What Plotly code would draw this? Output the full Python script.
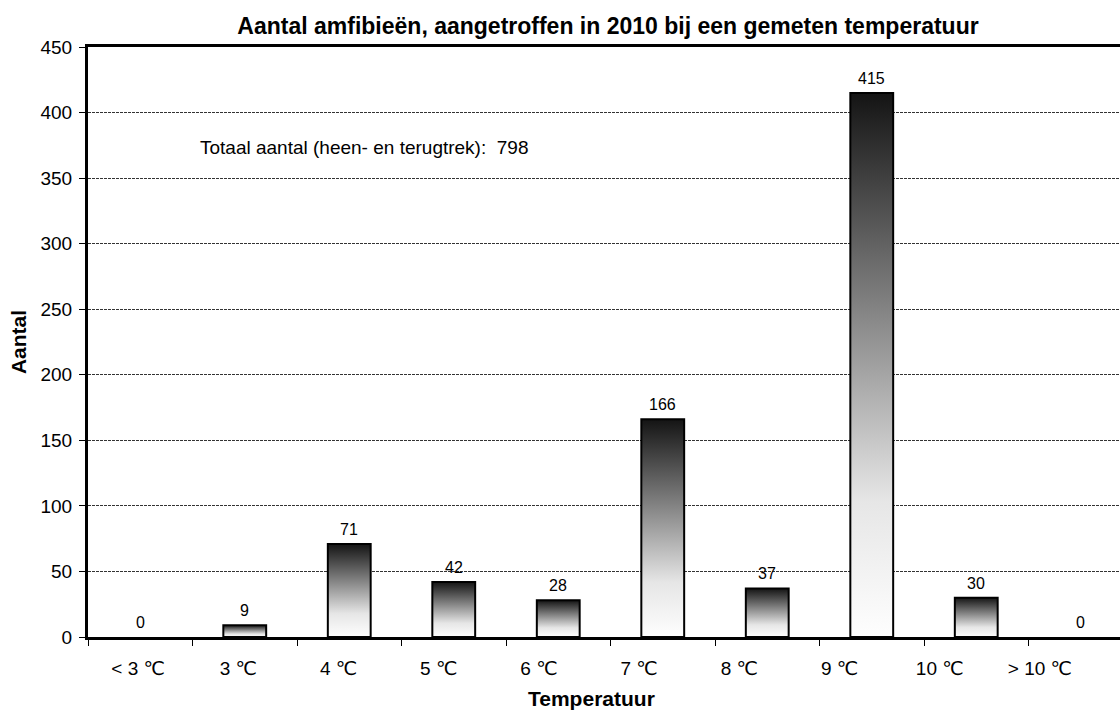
import plotly.graph_objects as go

# Data
categories = ['< 3 \u2103', '3 \u2103', '4 \u2103', '5 \u2103', '6 \u2103',
              '7 \u2103', '8 \u2103', '9 \u2103', '10 \u2103', '> 10 \u2103']
counts = [0, 9, 71, 42, 28, 166, 37, 415, 30, 0]
total_label = 'Totaal aantal (heen- en terugtrek):  798'

FONT = 'Liberation Sans, Arial, DejaVu Sans, sans-serif'
GRADIENT = [[0.0, '#fefefe'], [0.25, '#e6e6e6'], [0.5, '#a0a0a0'],
            [0.75, '#5a5a5a'], [1.0, '#141414']]
HALF_W = 0.205

# plot area in pixels (left edge, width, bottom edge, height)
PL, PW, PB, PH = 88, 1032, 637, 590

fig = go.Figure()

# Bars as filled shapes so every bar gets its own vertical gradient
for i, v in enumerate(counts):
    if v <= 0:
        continue
    fig.add_trace(go.Scatter(
        x=[i - HALF_W, i + HALF_W, i + HALF_W, i - HALF_W, i - HALF_W],
        y=[0, 0, v, v, 0],
        mode='lines',
        fill='toself',
        fillgradient=dict(type='vertical', colorscale=GRADIENT),
        line=dict(color='black', width=2),
        showlegend=False,
        hoverinfo='skip',
    ))

# Value labels
for i, v in enumerate(counts):
    fig.add_annotation(
        x=i, y=v, xref='x', yref='y', text=str(v),
        showarrow=False, yanchor='bottom', yshift=4,
        font=dict(family=FONT, size=16, color='black'),
    )

# Invisible trace for the tick-label axis
fig.add_trace(go.Scatter(x=list(range(len(categories))), y=[None] * len(categories),
                         xaxis='x2', mode='markers', showlegend=False, hoverinfo='skip'))

fig.add_annotation(
    x=(198 - PL) / PW, y=373, xref='x domain', yref='y', text=total_label,
    showarrow=False, xanchor='left', yanchor='middle',
    font=dict(family=FONT, size=19, color='black'),
)

fig.add_annotation(
    x=(591 - PL) / PW, y=-(699 - PB) / PH, xref='paper', yref='paper',
    text='<b>Temperatuur</b>', showarrow=False, xanchor='center', yanchor='middle',
    font=dict(family=FONT, size=21, color='black'),
)

fig.update_layout(
    width=1120, height=711,
    margin=dict(l=PL, r=0, t=47, b=74, autoexpand=False),
    plot_bgcolor='white', paper_bgcolor='white',
    font=dict(family=FONT, color='black'),
    title=dict(
        text='<b>Aantal amfibieën, aangetroffen in 2010 bij een gemeten temperatuur</b>',
        x=(608 - PL) / PW, xref='paper', xanchor='center',
        y=1 - 26 / 711, yref='container', yanchor='middle',
        font=dict(family=FONT, size=23, color='black'),
    ),
    xaxis=dict(
        range=[-0.5, -0.5 + PW / 104.5],
        tickvals=[k - 0.5 for k in range(len(categories) + 1)],
        ticktext=[''] * (len(categories) + 1),
        ticks='outside', ticklen=6, tickwidth=1, tickcolor='black',
        showgrid=False, zeroline=False, automargin=False,
        showline=True, linecolor='black', linewidth=3, mirror=True,
    ),
    xaxis2=dict(
        overlaying='x', anchor='y', side='bottom',
        range=[-0.5, -0.5 + PW / 100.2],
        tickvals=list(range(len(categories))), ticktext=categories,
        ticks='', showgrid=False, zeroline=False, showline=False,
        ticklabelstandoff=18, automargin=False,
        tickfont=dict(family=FONT, size=19, color='black'),
    ),
    yaxis=dict(
        range=[0, 450], dtick=50,
        ticks='outside', ticklen=6, tickwidth=1, tickcolor='black',
        ticklabelstandoff=3, automargin=False,
        tickfont=dict(family=FONT, size=19, color='black'),
        showgrid=True, gridcolor='#333333', gridwidth=1, griddash='3px,1px',
        zeroline=False,
        showline=True, linecolor='black', linewidth=3,
        title=dict(text='<b>Aantal</b>', standoff=9,
                   font=dict(family=FONT, size=21, color='black')),
    ),
)

# drop the default page margin so the figure sits at the window's top-left corner
fig.write_html('out.html', config={'displayModeBar': False},
               post_script="document.body.style.margin='0';")
